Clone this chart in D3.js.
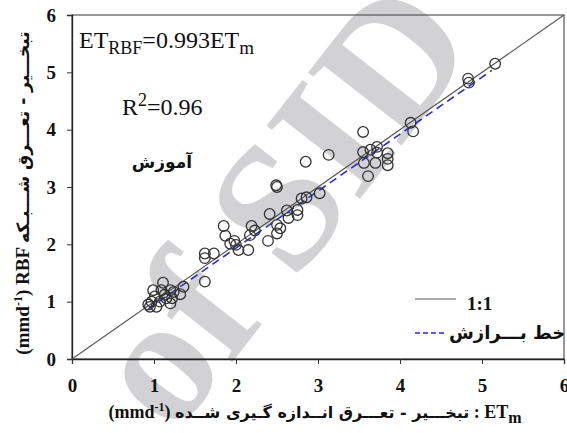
<!DOCTYPE html>
<html>
<head>
<meta charset="utf-8">
<script src="https://cdn.jsdelivr.net/npm/d3@7"></script>
<style>
  body { margin: 0; background: #fff; }
  svg text { font-family: "Liberation Serif", "DejaVu Sans", serif; }
  .fa { font-family: "DejaVu Sans", sans-serif; }
</style>
</head>
<body>
<div id="chart"></div>
<script>
let et_measured = [0.93, 0.97, 0.95, 0.99, 1.01, 1.03, 1.07, 1.09, 1.11, 1.13, 1.15, 1.20, 1.22, 1.20, 1.24, 1.32, 1.36,
    1.62, 1.62, 1.62, 1.73, 1.85, 1.87, 1.93, 1.98, 2.00, 2.03, 2.15, 2.17, 2.19, 2.23, 2.39, 2.41, 2.50, 2.50, 2.54,
    2.49, 2.50, 2.62, 2.64, 2.75, 2.75, 2.80, 2.86, 2.85, 3.02, 3.13, 3.55, 3.55, 3.56, 3.61, 3.64, 3.70, 3.72, 3.72,
    3.85, 3.85, 3.85, 4.13, 4.16, 4.83, 4.84, 5.16];
let et_rbf = [0.95, 1.00, 0.91, 1.20, 1.09, 0.91, 1.00, 1.20, 1.33, 1.12, 1.06, 0.97, 1.06, 1.20, 1.17, 1.13, 1.26,
    1.35, 1.76, 1.84, 1.84, 2.32, 2.15, 2.01, 2.06, 1.99, 1.90, 1.90, 2.16, 2.32, 2.24, 2.06, 2.53, 2.34, 2.19, 2.28,
    3.03, 3.00, 2.59, 2.46, 2.60, 2.51, 2.80, 2.82, 3.44, 2.89, 3.56, 3.96, 3.61, 3.42, 3.19, 3.65, 3.42, 3.70, 3.60,
    3.59, 3.49, 3.38, 4.12, 3.97, 4.89, 4.82, 5.15];

let tick_values = [0, 1, 2, 3, 4, 5, 6];
let fit_slope = 0.993;
let fit_intercept = -0.05;
let fit_range = [0.93, 5.12];

let width = 567, height = 433;
let margin = {top: 15, right: 3, bottom: 74, left: 72};

let svg = d3.select("#chart")
    .append("svg")
    .attr("width", width)
    .attr("height", height);

let x = d3.scaleLinear().domain([0, 6]).range([margin.left, width - margin.right]);
let y = d3.scaleLinear().domain([0, 6]).range([height - margin.bottom, margin.top]);

// watermark underneath everything
svg.append("text")
    .attr("transform", "translate(480, 45) rotate(-52)")
    .attr("text-anchor", "end")
    .style("font-size", "181px")
    .style("font-weight", "bold")
    .attr("fill", "#d2d2d4")
    .text("Archive of SID");

// frame
svg.append("rect")
    .attr("x", x(0))
    .attr("y", y(6))
    .attr("width", x(6) - x(0))
    .attr("height", y(0) - y(6))
    .attr("fill", "none")
    .attr("stroke", "#555")
    .attr("stroke-width", 1.2);

// axes
let xAxis = svg.append("g")
    .attr("transform", `translate(0, ${y(0)})`)
    .call(d3.axisBottom(x).tickValues(tick_values).tickFormat(d3.format("d")).tickSize(5).tickPadding(15));
let yAxis = svg.append("g")
    .attr("transform", `translate(${x(0)}, 0)`)
    .call(d3.axisLeft(y).tickValues(tick_values).tickFormat(d3.format("d")).tickSize(5).tickPadding(11));

[xAxis, yAxis].forEach(function(ax) {
    ax.select(".domain").attr("stroke", "#222").attr("stroke-width", 1.3);
    ax.selectAll(".tick line").attr("stroke", "#333");
    ax.selectAll(".tick text")
        .attr("fill", "#111")
        .style("font-family", "Liberation Serif")
        .style("font-size", "19px")
        .style("font-weight", "bold");
});

// 1:1 line
svg.append("line")
    .attr("x1", x(0)).attr("y1", y(0))
    .attr("x2", x(6)).attr("y2", y(6))
    .attr("stroke", "#555")
    .attr("stroke-width", 1.1);

// fitted line
svg.append("line")
    .attr("x1", x(fit_range[0])).attr("y1", y(fit_slope * fit_range[0] + fit_intercept))
    .attr("x2", x(fit_range[1])).attr("y2", y(fit_slope * fit_range[1] + fit_intercept))
    .attr("stroke", "#2a2ad4")
    .attr("stroke-width", 1.6)
    .attr("stroke-dasharray", "8,5");

// points
svg.append("g")
    .selectAll("circle")
    .data(et_measured)
    .enter()
    .append("circle")
    .attr("cx", function(d) { return x(d); })
    .attr("cy", function(d, i) { return y(et_rbf[i]); })
    .attr("r", 5.3)
    .attr("fill", "none")
    .attr("stroke", "#333")
    .attr("stroke-width", 1.3);

// annotations
let eq = svg.append("text")
    .attr("x", 79)
    .attr("y", 48)
    .style("font-size", "24px")
    .attr("fill", "#111");
eq.append("tspan").text("ET");
eq.append("tspan").attr("dy", 6).style("font-size", "18px").text("RBF");
eq.append("tspan").attr("dy", -6).text("=0.993ET");
eq.append("tspan").attr("dy", 6).style("font-size", "19px").text("m");

let r2 = svg.append("text")
    .attr("x", 122)
    .attr("y", 115)
    .style("font-size", "24px")
    .attr("fill", "#111");
r2.append("tspan").text("R");
r2.append("tspan").attr("dy", -9).style("font-size", "18px").text("2");
r2.append("tspan").attr("dy", 9).text("=0.96");

svg.append("text")
    .attr("class", "fa")
    .attr("x", 162)
    .attr("y", 168)
    .attr("text-anchor", "middle")
    .style("font-size", "17px")
    .style("font-weight", "bold")
    .attr("fill", "#111")
    .text("آموزش");

// legend
svg.append("line")
    .attr("x1", 415).attr("x2", 456)
    .attr("y1", 299).attr("y2", 299)
    .attr("stroke", "#555").attr("stroke-width", 1.1);
svg.append("text")
    .attr("x", 467).attr("y", 310)
    .style("font-size", "19px").style("font-weight", "bold")
    .attr("fill", "#111")
    .text("1:1");
svg.append("line")
    .attr("x1", 415).attr("x2", 444)
    .attr("y1", 333).attr("y2", 333)
    .attr("stroke", "#2a2ad4").attr("stroke-width", 1.6)
    .attr("stroke-dasharray", "5,3");
svg.append("text")
    .attr("class", "fa")
    .attr("x", 449).attr("y", 339)
    .style("font-size", "18px").style("font-weight", "bold")
    .attr("fill", "#111")
    .text("خط بـــرازش");

// x label
let xl = svg.append("text")
    .attr("x", 315)
    .attr("y", 418)
    .attr("text-anchor", "middle")
    .style("font-size", "18px")
    .style("font-weight", "bold")
    .attr("fill", "#111");
xl.append("tspan").text("(mmd");
xl.append("tspan").attr("dy", -7).style("font-size", "12px").text("-1");
xl.append("tspan").attr("dy", 7).text(") ");
xl.append("tspan").attr("class", "fa").style("font-size", "16px").text("تبخـــیر - تعـــرق انــدازه گـیری شــده");
xl.append("tspan").text(" : ET");
xl.append("tspan").attr("dy", 5).style("font-size", "16px").text("m");

// y label
let yl = svg.append("text")
    .attr("transform", "translate(29, 193) rotate(-90)")
    .attr("text-anchor", "middle")
    .style("font-size", "19px")
    .style("font-weight", "bold")
    .attr("fill", "#111");
yl.append("tspan").text("(mmd");
yl.append("tspan").attr("dy", -7).style("font-size", "12px").text("-1");
yl.append("tspan").attr("dy", 7).text(") RBF ");
yl.append("tspan").attr("class", "fa").style("font-size", "17px").text("تبخـــیر - تعـــرق شـــبـکه");
</script>
</body>
</html>
